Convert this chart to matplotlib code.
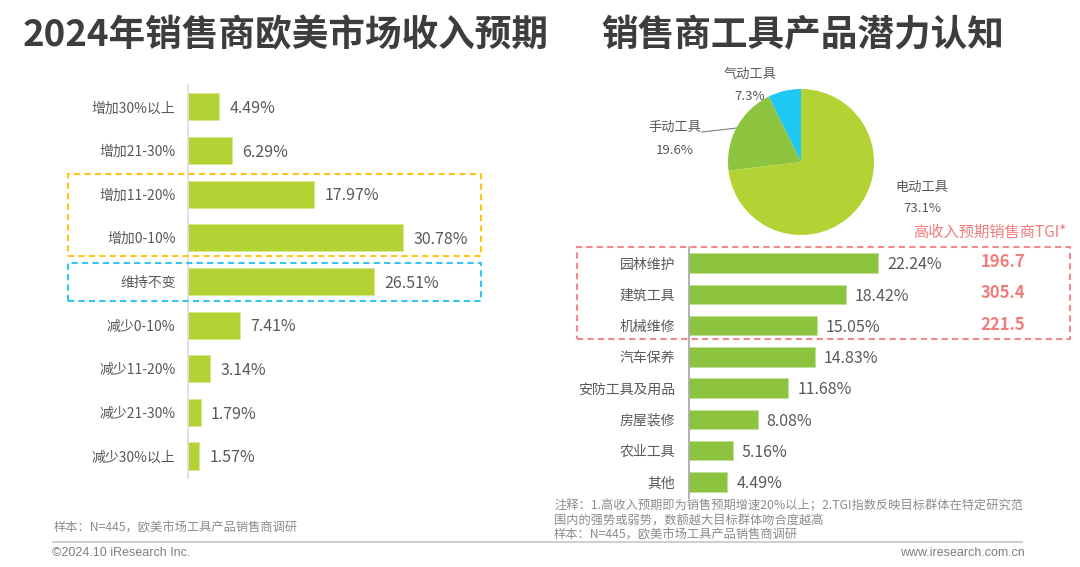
import matplotlib
matplotlib.use("Agg")
import matplotlib.pyplot as plt
from matplotlib.patches import Rectangle
from matplotlib.lines import Line2D
import matplotlib.transforms as mtransforms

plt.rcParams['font.family'] = ['Noto Sans CJK SC', 'DejaVu Sans']

W, H = 1080, 567

# ---- data ----
income_labels = ['增加30%以上', '增加21-30%', '增加11-20%', '增加0-10%', '维持不变',
                 '减少0-10%', '减少11-20%', '减少21-30%', '减少30%以上']
income_values = [4.49, 6.29, 17.97, 30.78, 26.51, 7.41, 3.14, 1.79, 1.57]

tool_types = ['气动工具', '手动工具', '电动工具']
tool_shares = [7.3, 19.6, 73.1]

field_labels = ['园林维护', '建筑工具', '机械维修', '汽车保养', '安防工具及用品',
                '房屋装修', '农业工具', '其他']
field_values = [22.24, 18.42, 15.05, 14.83, 11.68, 8.08, 5.16, 4.49]
tgi_values = [196.7, 305.4, 221.5]

LIME = '#b3d334'
GREEN = '#8cc43f'
CYAN = '#1ec8f2'
TXT = '#595959'
SALMON = '#f07c7c'

fig = plt.figure(figsize=(W / 100, H / 100), dpi=100)


def px_axes(x0, y0, x1, y1):
    return fig.add_axes([x0 / W, 1 - y1 / H, (x1 - x0) / W, (y1 - y0) / H])


def px_text(x, y, s, **kw):
    fig.text(x / W, 1 - y / H, s, **kw)


def px_box(x0, y0, x1, y1, color):
    fig.patches.append(Rectangle((x0 / W, 1 - y1 / H), (x1 - x0) / W, (y1 - y0) / H,
                                 transform=fig.transFigure, fill=False, edgecolor=color,
                                 lw=1.5, ls=(0, (3, 2))))


################   LEFT: income expectation bars   ################
ax1 = px_axes(188, 85, 540, 477.8)
pos = range(len(income_labels))
ax1.barh(pos, income_values, height=0.62, color=LIME, edgecolor='#d4e88f', lw=0.6)
ax1.set_ylim(len(income_labels) - 0.5, -0.5)
ax1.set_xlim(0, 352 / 7.0)
ax1.set_yticks(list(pos))
ax1.set_yticklabels(income_labels, fontsize=10, color=TXT)
ax1.tick_params(axis='y', length=0, pad=9)
ax1.set_xticks([])
for s in ['top', 'right', 'bottom']:
    ax1.spines[s].set_visible(False)
ax1.spines['left'].set_color('#dcdcdc')
ax1.spines['left'].set_linewidth(1.2)
ax1.patch.set_alpha(0)
for i, v in enumerate(income_values):
    ax1.annotate(f'{v:.2f}%', (v, i), xytext=(7.5, -1.3), textcoords='offset points',
                 va='center', ha='left', fontsize=11.5, color=TXT)

px_box(68, 174, 481, 256, '#ffc61a')
px_box(68, 263, 481, 301, '#35c5ef')

################   RIGHT TOP: pie   ################
ax2 = px_axes(728, 89, 874, 235)
ax2.pie(tool_shares, colors=[CYAN, GREEN, LIME], startangle=90, counterclock=True,
        radius=1, wedgeprops=dict(linewidth=0))
ax2.set_xlim(-1, 1)
ax2.set_ylim(-1, 1)
ax2.set_aspect('equal')
ax2.axis('off')

pie_label_pos = [(750, 74, 97), (675, 127, 150), (922, 187, 209)]
for (x, y1, y2), name, share in zip(pie_label_pos, tool_types, tool_shares):
    px_text(x, y1, name, ha='center', va='center', fontsize=9.5, color=TXT)
    px_text(x, y2, f'{share:.1f}%', ha='center', va='center', fontsize=9.5, color=TXT)
fig.lines.append(Line2D([702 / W, 737 / W], [1 - 132 / H, 1 - 128 / H],
                        transform=fig.transFigure, color='#7f7f7f', lw=0.8))

################   RIGHT BOTTOM: field bars + TGI   ################
ax3 = px_axes(689, 247.4, 1060, 497.6)
pos3 = range(len(field_labels))
ax3.barh(pos3, field_values, height=0.62, color=GREEN, edgecolor='#c2e09a', lw=0.6)
ax3.set_ylim(len(field_labels) - 0.5, -0.5)
ax3.set_xlim(0, 371 / 8.5)
ax3.set_yticks(list(pos3))
ax3.set_yticklabels(field_labels, fontsize=10, color=TXT)
ax3.tick_params(axis='y', length=0, pad=10)
ax3.set_xticks([])
for s in ['top', 'right', 'bottom']:
    ax3.spines[s].set_visible(False)
ax3.spines['left'].set_color('#a6a6a6')
ax3.spines['left'].set_linewidth(1.2)
ax3.patch.set_alpha(0)
for i, v in enumerate(field_values):
    ax3.annotate(f'{v:.2f}%', (v, i), xytext=(6.5, -1.3), textcoords='offset points',
                 va='center', ha='left', fontsize=11.5, color=TXT)

blend = mtransforms.blended_transform_factory(fig.transFigure, ax3.transData)
for i, t in enumerate(tgi_values):
    ax3.text(1003 / W, i - 0.03, f'{t:.1f}', transform=blend, ha='center', va='center',
             fontsize=12, color=SALMON, fontweight='bold')

px_text(1067, 232, '高收入预期销售商TGI*', ha='right', va='center', fontsize=11, color=SALMON)
px_box(577, 247, 1070, 339, '#f2898b')

################   titles & footer   ################
px_text(23, 36, '2024年销售商欧美市场收入预期', ha='left', va='center', fontsize=26.4,
        fontweight='bold', color='#3d3d3d')
px_text(601, 36, '销售商工具产品潜力认知', ha='left', va='center', fontsize=26.4,
        fontweight='bold', color='#3d3d3d')

px_text(54, 528, '样本：N=445，欧美市场工具产品销售商调研', ha='left', va='center',
        fontsize=8.8, color='#8c8c8c')
px_text(554, 506, '注释：1.高收入预期即为销售预期增速20%以上；2.TGI指数反映目标群体在特定研究范',
        ha='left', va='center', fontsize=8.8, color='#8c8c8c')
px_text(554, 521, '围内的强势或弱势，数额越大目标群体吻合度越高', ha='left', va='center',
        fontsize=8.8, color='#8c8c8c')
px_text(554, 535, '样本：N=445，欧美市场工具产品销售商调研', ha='left', va='center',
        fontsize=8.8, color='#8c8c8c')

fig.lines.append(Line2D([53 / W, 1022 / W], [1 - 542 / H, 1 - 542 / H],
                        transform=fig.transFigure, color='#d0d0d0', lw=1.5))
px_text(52, 553, '©2024.10 iResearch Inc.', ha='left', va='center', fontsize=9,
        color='#7f7f7f', family='Liberation Sans')
px_text(1025, 553, 'www.iresearch.com.cn', ha='right', va='center', fontsize=9,
        color='#7f7f7f', family='Liberation Sans')

fig.savefig('out.png', dpi=100, facecolor='white')
